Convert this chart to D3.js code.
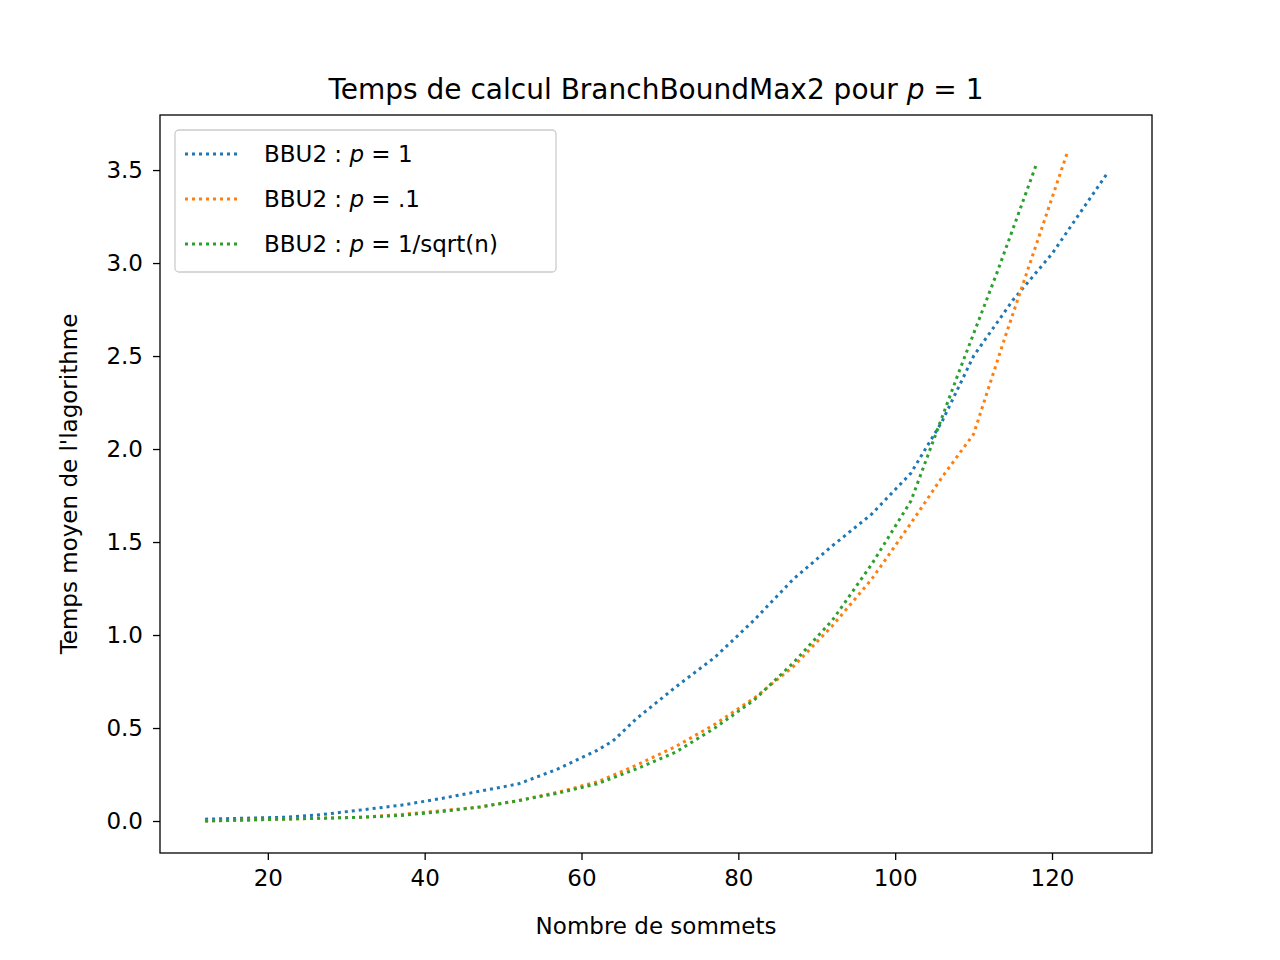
<!DOCTYPE html>
<html><head><meta charset="utf-8">
<script src="https://cdn.jsdelivr.net/npm/d3@7/dist/d3.min.js"></script>
<style>body{margin:0;background:#fff}text{font-family:"DejaVu Sans",sans-serif}</style>
</head><body><svg id="c" width="1280" height="960"></svg>
<script>
// data
const blueX = [12,17,22,27,32,37,42,47,52,57,62,64,67,72,77,82,87,92,97,102,106,110,115,120,127];
const blueY = [0.01,0.015,0.02,0.035,0.06,0.085,0.12,0.16,0.2,0.28,0.38,0.43,0.55,0.72,0.88,1.08,1.3,1.48,1.65,1.87,2.15,2.5,2.8,3.05,3.48];
const orangeX = [12,17,22,27,32,37,42,47,52,57,62,67,72,77,82,87,92,97,102,106,110,114,118,122];
const orangeY = [0,0.005,0.01,0.015,0.02,0.035,0.055,0.075,0.11,0.155,0.21,0.3,0.4,0.52,0.66,0.83,1.05,1.3,1.6,1.85,2.08,2.6,3.1,3.6];
const greenX = [12,17,22,27,32,37,42,47,52,57,62,67,72,77,82,87,92,97,102,108,113,118];
const greenY = [0,0.005,0.01,0.015,0.02,0.03,0.05,0.075,0.11,0.15,0.2,0.28,0.37,0.5,0.65,0.85,1.08,1.38,1.72,2.4,2.95,3.53];
const xTicks = [20,40,60,80,100,120];
const yTicks = [0,0.5,1,1.5,2,2.5,3,3.5];
const series = [
  {name:"1", x:blueX, y:blueY, color:"#1f77b4"},
  {name:".1", x:orangeX, y:orangeY, color:"#ff7f0e"},
  {name:"1/sqrt(n)", x:greenX, y:greenY, color:"#2ca02c"}
];

const L=160,R=1152,T=115,B=853;
const svg=d3.select("#c");
const x=d3.scaleLinear().domain([6.25,132.75]).range([L,R]);
const y=d3.scaleLinear().domain([-0.172,3.796]).range([B,T]);

const line=d3.line().x(d=>x(d[0])).y(d=>y(d[1]));
series.forEach(s=>{
  svg.append("path").attr("d",line(s.x.map((v,i)=>[v,s.y[i]])))
    .attr("fill","none").attr("stroke",s.color).attr("stroke-width",3)
    .attr("stroke-dasharray","3 4");
});

svg.append("rect").attr("x",L).attr("y",T).attr("width",R-L).attr("height",B-T)
  .attr("fill","none").attr("stroke","#000").attr("stroke-width",1.3);

const xa=svg.append("g").attr("transform",`translate(0,${B})`)
  .call(d3.axisBottom(x).tickValues(xTicks).tickSize(7).tickPadding(10).tickFormat(d3.format("d")));
const ya=svg.append("g").attr("transform",`translate(${L},0)`)
  .call(d3.axisLeft(y).tickValues(yTicks).tickSize(7).tickPadding(10).tickFormat(d3.format(".1f")));
[xa,ya].forEach(a=>{a.select(".domain").remove();
  a.attr("font-size",null);
  a.selectAll("text").attr("font-size",23).attr("fill","#000").style("font-family","DejaVu Sans");
  a.selectAll("line").attr("stroke","#000").attr("stroke-width",1.3);});

svg.append("text").attr("x",656).attr("y",934).attr("text-anchor","middle").attr("font-size",23).text("Nombre de sommets");
svg.append("text").attr("transform","translate(77,484) rotate(-90)").attr("text-anchor","middle").attr("font-size",23).text("Temps moyen de l'lagorithme");
const t=svg.append("text").attr("x",656).attr("y",99).attr("text-anchor","middle").attr("font-size",28);
t.append("tspan").text("Temps de calcul BranchBoundMax2 pour ");
t.append("tspan").attr("font-style","italic").text("p");
t.append("tspan").text(" = 1");

const lg=svg.append("g");
lg.append("rect").attr("x",175).attr("y",130).attr("width",381).attr("height",142).attr("rx",4)
  .attr("fill","#fff").attr("stroke","#ccc").attr("stroke-width",1.3);
series.forEach((s,i)=>{
  const yy=154+i*45;
  lg.append("line").attr("x1",185).attr("x2",241).attr("y1",yy).attr("y2",yy)
    .attr("stroke",s.color).attr("stroke-width",3).attr("stroke-dasharray","3 4");
  const tx=lg.append("text").attr("x",264).attr("y",yy+8).attr("font-size",23);
  tx.append("tspan").text("BBU2 : ");
  tx.append("tspan").attr("font-style","italic").text("p");
  tx.append("tspan").text(" = "+s.name);
});
</script></body></html>
